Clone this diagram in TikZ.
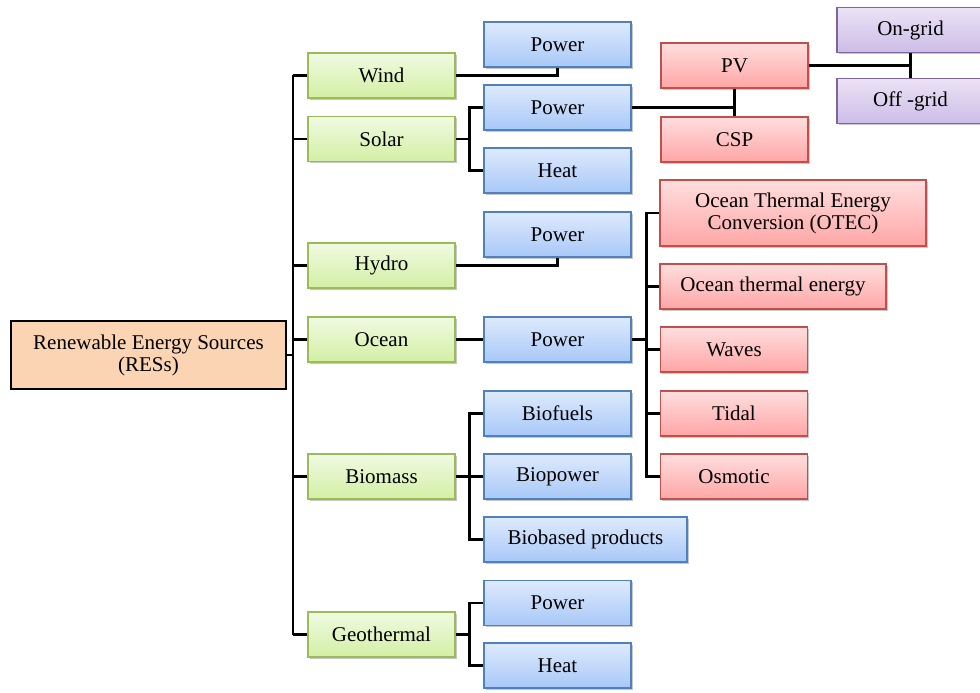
\documentclass[tikz,border=0pt]{standalone}
\usepackage{fontspec}
\setmainfont{Liberation Serif}
\usetikzlibrary{shadows}
\definecolor{greenT}{HTML}{F0FAE2}
\definecolor{greenB}{HTML}{D3EFA4}
\definecolor{greenD}{HTML}{9BBB59}
\definecolor{blueT}{HTML}{DEEAFD}
\definecolor{blueB}{HTML}{A8C8F7}
\definecolor{blueD}{HTML}{4F81BD}
\definecolor{redT}{HTML}{FFDEDE}
\definecolor{redB}{HTML}{FFA6A6}
\definecolor{redD}{HTML}{C0504D}
\definecolor{purT}{HTML}{EBE3F5}
\definecolor{purB}{HTML}{CCBDE7}
\definecolor{purD}{HTML}{8064A2}
\definecolor{resC}{HTML}{FBD4B4}
\tikzset{
  box/.style={rectangle, line width=1.3pt, inner sep=0pt, minimum height=45pt,
    font=\fontsize{21}{22}\selectfont, align=center,
    drop shadow={shadow xshift=1.5pt, shadow yshift=-1.8pt, opacity=0.22, fill=black}},
  gbox/.style={box, draw=greenD, top color=greenT, bottom color=greenB, minimum width=147pt},
  bbox/.style={box, draw=blueD, top color=blueT, bottom color=blueB, minimum width=147pt},
  rbox/.style={box, draw=redD, top color=redT, bottom color=redB, minimum width=147pt},
  pbox/.style={box, draw=purD, top color=purT, bottom color=purB, minimum width=147pt},
  link/.style={line width=2.8pt, black}
}
\begin{document}
\begin{tikzpicture}[x=1pt, y=-1pt]
\useasboundingbox (0,0) rectangle (980,693);
% root
\node[rectangle, draw=black, line width=2pt, fill=resC, minimum width=275pt, minimum height=68pt,
  inner sep=0pt, align=center, font=\fontsize{21}{22}\selectfont] (res) at (148.5,355) {Renewable Energy Sources\\(RESs)};
% level 1
\node[gbox] (wind) at (381.5,75.5) {Wind};
\node[gbox] (solar) at (381.5,139) {Solar};
\node[gbox] (hydro) at (381.5,265.5) {Hydro};
\node[gbox] (ocean) at (381.5,339.5) {Ocean};
\node[gbox] (biomass) at (381.5,476.5) {Biomass};
\node[gbox] (geo) at (381.5,634.5) {Geothermal};
% level 2
\node[bbox] (wp) at (557.5,44.5) {Power};
\node[bbox] (sp) at (557.5,107.5) {Power};
\node[bbox] (sh) at (557.5,170.5) {Heat};
\node[bbox] (hp) at (557.5,234.5) {Power};
\node[bbox] (op) at (557.5,339.5) {Power};
\node[bbox] (bf) at (557.5,413.5) {Biofuels};
\node[bbox] (bp) at (557.5,476.5) {Biopower};
\node[bbox, minimum width=203pt] (bb) at (585.5,539.5) {Biobased products};
\node[bbox] (gp) at (557.5,603) {Power};
\node[bbox] (gh) at (557.5,665.5) {Heat};
% level 3
\node[rbox] (pv) at (734.5,65.5) {PV};
\node[rbox] (csp) at (734.5,139.5) {CSP};
\node[rbox, minimum width=266pt, minimum height=66pt] (otec) at (793,213) {Ocean Thermal Energy\\Conversion (OTEC)};
\node[rbox, minimum width=226pt] (ote) at (773,286.5) {Ocean thermal energy};
\node[rbox] (waves) at (734,349.5) {Waves};
\node[rbox] (tidal) at (734,413.5) {Tidal};
\node[rbox] (osm) at (734,476.5) {Osmotic};
% level 4
\node[pbox] (on) at (910.5,30) {On-grid};
\node[pbox] (off) at (910.5,101) {Off -grid};
% connectors
\coordinate (tt) at (293,75.5);
\coordinate (tb) at (293,634.5);
\draw[link] (tt) -- (tb);
\draw[link] (res.east) -- (res.east -| tt);
\foreach \n in {wind,solar,hydro,ocean,biomass,geo}{
  \draw[link] (\n.west) -- (\n.west -| tt);
}
\draw[link] (wind.east) -| (wp.south);
\draw[link] (hydro.east) -| (hp.south);
\coordinate (sj) at ([xshift=14pt]solar.east);
\draw[link] (solar.east) -- (sj);
\draw[link] (sp.west) -| (sj) |- (sh.west);
\draw[link] (pv.south) -- (csp.north);
\draw[link] (sp.east) -- (sp.east -| pv.south);
\draw[link] (on.south) -- (off.north);
\draw[link] (pv.east) -- (pv.east -| on.south);
\draw[link] (ocean.east) -- (op.west);
\coordinate (oj) at ([xshift=15pt]op.east);
\draw[link] (op.east) -- (oj);
\draw[link] (otec.west) -| (oj) |- (osm.west);
\draw[link] (ote.west) -- (ote.west -| oj);
\draw[link] (waves.west) -- (waves.west -| oj);
\draw[link] (tidal.west) -- (tidal.west -| oj);
\coordinate (bj) at ([xshift=14pt]biomass.east);
\draw[link] (biomass.east) -- (bp.west);
\draw[link] (bf.west) -| (bj) |- (bb.west);
\coordinate (gj) at ([xshift=14pt]geo.east);
\draw[link] (geo.east) -- (gj);
\draw[link] (gp.west) -| (gj) |- (gh.west);
\end{tikzpicture}
\end{document}
